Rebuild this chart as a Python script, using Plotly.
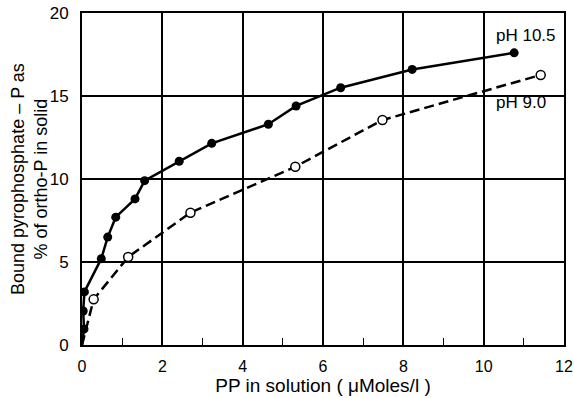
import plotly.graph_objects as go

# pH 10.5 (filled circles)
x_105 = [0.0, 0.05, 0.03, 0.06, 0.48, 0.64, 0.84, 1.32, 1.56, 2.42, 3.23, 4.64, 5.33, 6.44, 8.22, 10.76]
y_105 = [0.0, 0.96, 2.05, 3.2, 5.2, 6.5, 7.7, 8.8, 9.9, 11.07, 12.15, 13.3, 14.4, 15.5, 16.6, 17.6]
# pH 9.0 (open circles)
x_90 = [0.0, 0.29, 1.15, 2.7, 5.31, 7.48, 11.42]
y_90 = [0.0, 2.75, 5.3, 7.97, 10.74, 13.55, 16.27]

x_ticks = [0, 2, 4, 6, 8, 10, 12]
y_ticks = [0, 5, 10, 15, 20]

FONT = "Liberation Sans"
L, R = 82, 10
PLOT_W = 574 - L - R

fig = go.Figure()
fig.add_trace(go.Scatter(
    x=x_105, y=y_105, mode="lines+markers",
    line=dict(color="black", width=2.5),
    marker=dict(color="black", opacity=1, size=[0] + [9] * (len(x_105) - 1),
                line=dict(color="black", width=0)),
    showlegend=False))
fig.add_trace(go.Scatter(
    x=x_90, y=y_90, mode="lines+markers",
    line=dict(color="black", width=2.5, dash="10px,5px"),
    marker=dict(color="white", opacity=1, size=[0] + [9] * (len(x_90) - 1),
                line=dict(color="black", width=1.5)),
    showlegend=False))

fig.add_annotation(x=10.25, y=18.67, xref="x", yref="y", text="pH 10.5",
                   showarrow=False, xanchor="left", yanchor="middle",
                   font=dict(family=FONT, size=17, color="black"))
fig.add_annotation(x=10.25, y=14.58, xref="x", yref="y", text="pH 9.0",
                   showarrow=False, xanchor="left", yanchor="middle",
                   font=dict(family=FONT, size=17, color="black"))
# y-axis title (two lines, rotated)
fig.add_annotation(x=(29 - L) / PLOT_W, y=0.5, xref="paper", yref="paper",
                   text="Bound pyrophosphate – P as<br>% of ortho-P in solid",
                   textangle=-90, showarrow=False, xanchor="center", yanchor="middle",
                   font=dict(family=FONT, size=18, color="black"))

fig.update_layout(
    width=574, height=398,
    margin=dict(l=L, r=R, t=13, b=53),
    paper_bgcolor="white", plot_bgcolor="white",
    font=dict(family=FONT, size=16, color="black"),
)
fig.update_xaxes(
    range=[0, 12], tickvals=x_ticks, ticktext=[str(v) for v in x_ticks],
    showgrid=True, gridcolor="black", gridwidth=1.5,
    showline=True, linecolor="black", linewidth=2, mirror=True,
    ticks="", ticklabelstandoff=6, zeroline=False, ticklabeloverflow="allow",
    automargin=False,
    minor=dict(ticks="inside", ticklen=7, tickcolor="black", tickwidth=1.2, dtick=1, showgrid=False),
    title=dict(text="PP in solution ( μMoles/l )", font=dict(family=FONT, size=19), standoff=2),
    tickfont=dict(family=FONT, size=16),
)
fig.update_yaxes(
    range=[0, 20], tickvals=y_ticks, ticktext=[str(v) for v in y_ticks],
    showgrid=True, gridcolor="black", gridwidth=1.5,
    showline=True, linecolor="black", linewidth=2, mirror=True,
    ticks="", ticklabelstandoff=8, zeroline=False, automargin=False,
    tickfont=dict(family=FONT, size=17),
)

fig.write_html("out.html")
